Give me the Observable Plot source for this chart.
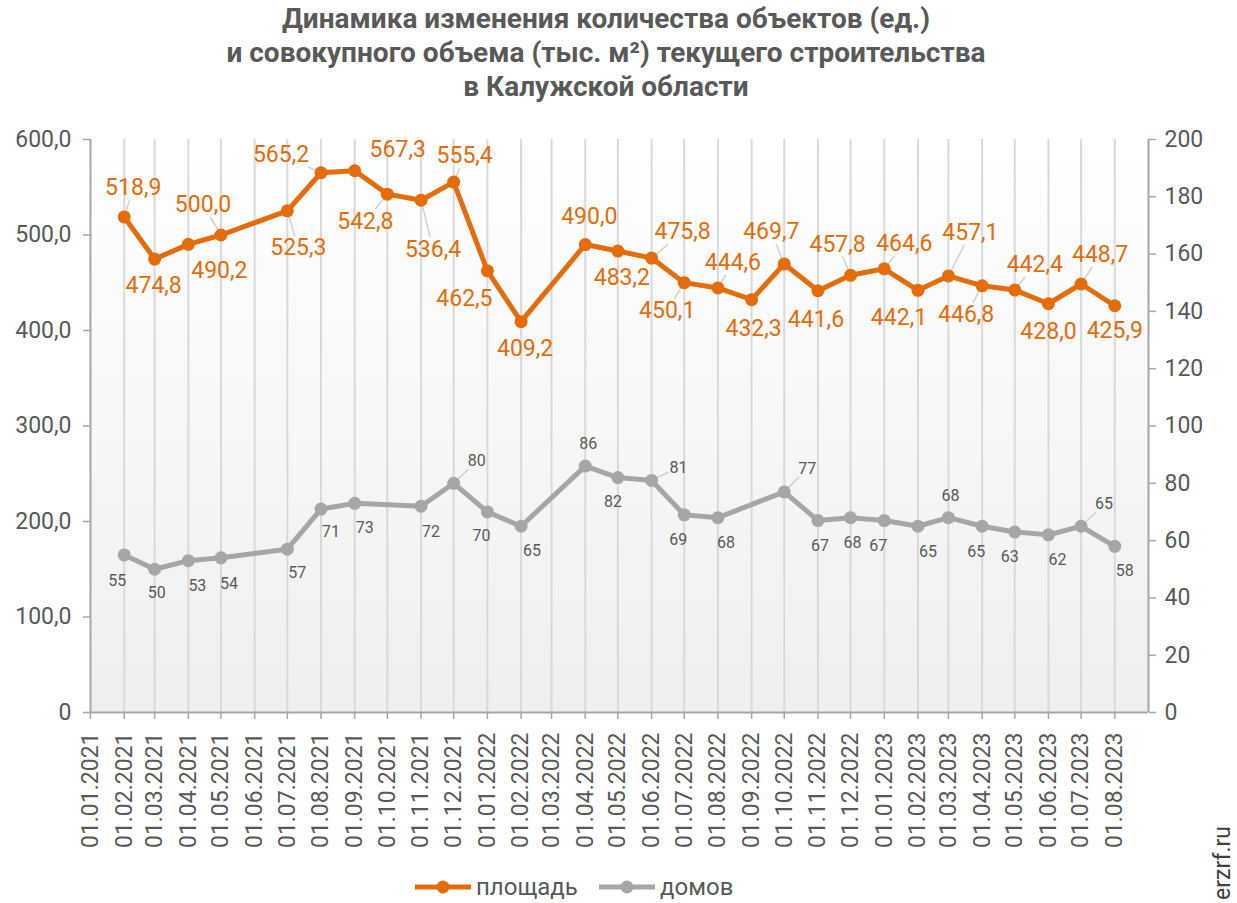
<!DOCTYPE html>
<html><head><meta charset="utf-8">
<script src="https://cdn.jsdelivr.net/npm/d3@7"></script>
<script src="https://cdn.jsdelivr.net/npm/@observablehq/plot@0.6"></script>
<style>
body{margin:0;background:#fff;font-family:Roboto,sans-serif}
#wrap{position:relative;width:1237px;height:903px;overflow:hidden;background:#fff}
#title{position:absolute;left:0;top:2px;width:1212px;text-align:center;font-weight:bold;font-size:28px;line-height:34px;color:#595959}
#chart{position:absolute;left:0;top:0}
.li{position:absolute;top:874px;height:26px;display:flex;align-items:center;font-size:24px;color:#595959}
#wm{position:absolute;left:1210px;top:826px;writing-mode:vertical-rl;transform:rotate(180deg);font-size:23px;color:#404040;line-height:26px}
</style>
</head><body>
<div id="wrap">
  <div id="chart"></div>
  <div id="title">Динамика изменения количества объектов (ед.)<br>и совокупного объема (тыс. м²) текущего строительства<br>в Калужской области</div>
  <div class="li" style="left:414px"><svg width="58" height="20"><line x1="1" y1="10" x2="57" y2="10" stroke="#E46C0A" stroke-width="5"/><circle cx="29" cy="10" r="6.5" fill="#E46C0A"/></svg><span style="margin-left:4px">площадь</span></div>
  <div class="li" style="left:598px"><svg width="58" height="20"><line x1="1" y1="10" x2="57" y2="10" stroke="#A6A6A6" stroke-width="5"/><circle cx="29" cy="10" r="6.5" fill="#A6A6A6"/></svg><span style="margin-left:4px">домов</span></div>
  <div id="wm">erzrf.ru</div>
</div>
<script>
// ---- data ----
const areaDates = ["2021-02-01","2021-03-01","2021-04-01","2021-05-01","2021-07-01","2021-08-01","2021-09-01","2021-10-01","2021-11-01","2021-12-01",
  "2022-01-01","2022-02-01","2022-04-01","2022-05-01","2022-06-01","2022-07-01","2022-08-01","2022-09-01","2022-10-01","2022-11-01","2022-12-01",
  "2023-01-01","2023-02-01","2023-03-01","2023-04-01","2023-05-01","2023-06-01","2023-07-01","2023-08-01"];
const areaValues = [518.9,474.8,490.2,500.0,525.3,565.2,567.3,542.8,536.4,555.4,
  462.5,409.2,490.0,483.2,475.8,450.1,444.6,432.3,469.7,441.6,457.8,
  464.6,442.1,457.1,446.8,442.4,428.0,448.7,425.9];
const houseDates = ["2021-02-01","2021-03-01","2021-04-01","2021-05-01","2021-07-01","2021-08-01","2021-09-01","2021-11-01","2021-12-01",
  "2022-01-01","2022-02-01","2022-04-01","2022-05-01","2022-06-01","2022-07-01","2022-08-01","2022-10-01","2022-11-01","2022-12-01",
  "2023-01-01","2023-02-01","2023-03-01","2023-04-01","2023-05-01","2023-06-01","2023-07-01","2023-08-01"];
const houseValues = [55,50,53,54,57,71,73,72,80,
  70,65,86,82,81,69,68,77,67,68,
  67,65,68,65,63,62,65,58];
const leftTicks = [0,100,200,300,400,500,600];
const rightTicks = [0,20,40,60,80,100,120,140,160,180,200];

// ---- label placement (pixel offsets from the point; leader flags) ----
const areaLabelDx = [9,-1,31,-18,11,-40,43,-22,12,11,-23,4,4,4,31,-17,15,2,-13,-2,-13,20,-19,22,-16,20,0,19,0];
const areaLabelDy = [-29,27,26,-30,37,-18,-21,27,49,-26,28,27,-28,27,-26,28,-25,29,-32,29,-31,-25,27,-43,29,-25,28,-29,25];
const areaLeader  = [1,0,0,1,1,1,0,1,1,1,0,0,0,0,1,1,1,0,1,0,1,1,0,1,1,1,0,1,0];
const houseLabelDx = [-7,2,9,8,10,10,10,10,23,-6,11,3,-5,27,-6,8,23,2,2,-6,10,2,-6,-5,9,23,10];
const houseLabelDy = [26,24,25,26,24,23,25,26,-22,24,25,-22,24,-13,25,25,-23,25,25,25,26,-22,26,25,25,-22,25];
const houseLeader  = [0,0,0,0,0,0,0,0,1,0,0,0,0,1,0,0,1,0,0,0,0,0,0,0,0,1,0];

// ---- layout ----
const W = 1237, H = 903, ML = 90, MR = 89, MT = 139, MB = 191;
const ratio = 600 / 200;
const parse = d3.utcParse("%Y-%m-%d");
const x0 = parse("2021-01-01"), x1 = parse("2023-09-01");
const xs = Plot.scale({x: {type: "utc", domain: [x0, x1], range: [ML, W - MR]}});
const ys = Plot.scale({y: {type: "linear", domain: [0, 600], range: [H - MB, MT]}});
const months = d3.utcMonth.range(x0, parse("2023-08-02"));

const area = areaDates.map((d, i) => ({date: parse(d), v: areaValues[i]}));
const house = houseDates.map((d, i) => ({date: parse(d), v: houseValues[i] * ratio, raw: houseValues[i]}));

function labels(data, dxs, dys, fmt) {
  return data.map((d, i) => {
    const px = xs.apply(d.date), py = ys.apply(d.v);
    return {x: xs.invert(px + dxs[i]), y: ys.invert(py + dys[i]), t: fmt(d)};
  });
}
function leaders(data, dxs, dys, flags, hw, hh) {
  const out = [];
  data.forEach((d, i) => {
    if (!flags[i]) return;
    const px = xs.apply(d.date), py = ys.apply(d.v);
    const dx = dxs[i], dy = dys[i];
    const t = Math.min(dx ? hw / Math.abs(dx) : Infinity, dy ? hh / Math.abs(dy) : Infinity);
    const ex = px + dx - dx * t, ey = py + dy - dy * t;
    out.push({x1: xs.invert(ex), y1: ys.invert(ey), x2: d.date, y2: d.v});
  });
  return out;
}
const fmt1 = d => d.v.toFixed(1).replace(".", ",");
const areaLab = labels(area, areaLabelDx, areaLabelDy, fmt1);
const houseLab = labels(house, houseLabelDx, houseLabelDy, d => String(d.raw));
const areaLead = leaders(area, areaLabelDx, areaLabelDy, areaLeader, 31, 12);
const houseLead = leaders(house, houseLabelDx, houseLabelDy, houseLeader, 10, 8);

const ORANGE = "#E46C0A", GREY = "#A6A6A6", AX = "#A6A6A6", TXT = "#595959";

const svg = Plot.plot({
  width: W, height: H,
  marginLeft: ML, marginRight: MR, marginTop: MT, marginBottom: MB,
  style: {fontFamily: "Roboto, sans-serif", background: "transparent", overflow: "visible"},
  x: {type: "utc", domain: [x0, x1]},
  y: {type: "linear", domain: [0, 600]},
  marks: [
    Plot.frame({fill: "url(#bgGrad)", stroke: "none"}),
    Plot.ruleX(months.slice(1), {stroke: "#D9D9D9", strokeWidth: 2}),
    Plot.axisX({ticks: months, tickFormat: d3.utcFormat("%d.%m.%Y"), tickRotate: -90, tickSize: 7, tickPadding: 13,
      fontSize: 23, fill: TXT, stroke: AX, strokeWidth: 1.5, label: null}),
    Plot.axisY({anchor: "left", ticks: leftTicks, tickFormat: v => v === 0 ? "0" : v.toFixed(1).replace(".", ","),
      tickSize: 7, tickPadding: 12, fontSize: 23, fill: TXT, stroke: AX, strokeWidth: 1.5, label: null}),
    Plot.axisY({anchor: "right", ticks: rightTicks.map(v => v * ratio), tickFormat: v => String(Math.round(v / ratio)),
      tickSize: 7, tickPadding: 9, fontSize: 23, fill: TXT, stroke: AX, strokeWidth: 1.5, label: null}),
    Plot.ruleX([x0], {stroke: AX, strokeWidth: 2}),
    Plot.ruleX([x1], {stroke: AX, strokeWidth: 2}),
    Plot.ruleY([0], {stroke: AX, strokeWidth: 2}),
    Plot.link(areaLead, {x1: "x1", y1: "y1", x2: "x2", y2: "y2", stroke: "#D0D0D0", strokeWidth: 1.5}),
    Plot.link(houseLead, {x1: "x1", y1: "y1", x2: "x2", y2: "y2", stroke: "#D0D0D0", strokeWidth: 1.5}),
    Plot.line(house, {x: "date", y: "v", stroke: GREY, strokeWidth: 5}),
    Plot.dot(house, {x: "date", y: "v", r: 6.5, fill: GREY, stroke: "none"}),
    Plot.line(area, {x: "date", y: "v", stroke: ORANGE, strokeWidth: 5}),
    Plot.dot(area, {x: "date", y: "v", r: 6.5, fill: ORANGE, stroke: "none"}),
    Plot.text(houseLab, {x: "x", y: "y", text: "t", fill: TXT, fontSize: 16}),
    Plot.text(areaLab, {x: "x", y: "y", text: "t", fill: ORANGE, fontSize: 23})
  ]
});
const ns = "http://www.w3.org/2000/svg";
const defs = document.createElementNS(ns, "defs");
defs.innerHTML = '<linearGradient id="bgGrad" x1="0" y1="0" x2="0" y2="1"><stop offset="0" stop-color="#ffffff"/><stop offset="1" stop-color="#EFEFEF"/></linearGradient>';
svg.insertBefore(defs, svg.firstChild);
document.getElementById("chart").appendChild(svg);
</script>
</body></html>
